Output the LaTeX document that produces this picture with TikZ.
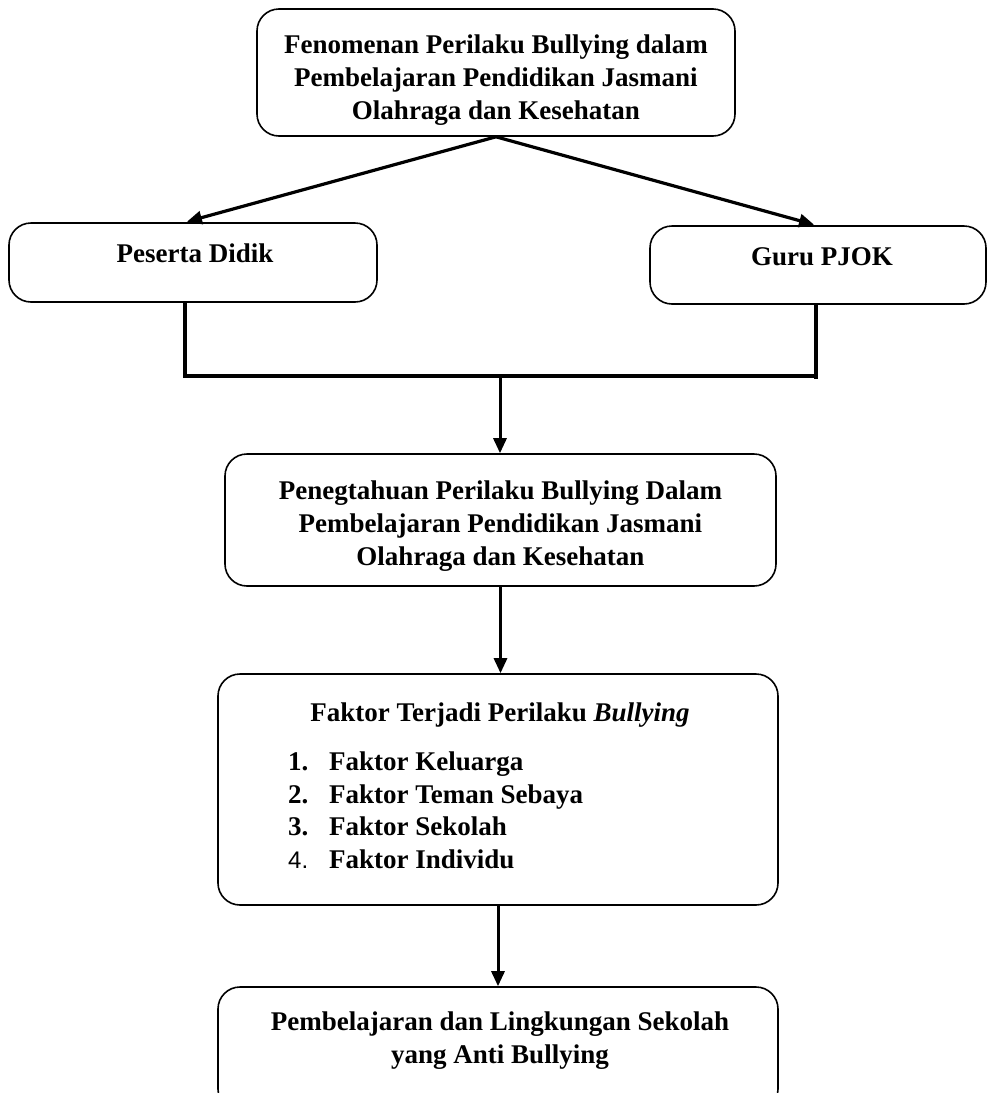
\documentclass[tikz,border=0pt]{standalone}
\usepackage{fontspec}
\setmainfont{Liberation Serif}
\newfontfamily\arialsans{Liberation Sans}
\usetikzlibrary{arrows.meta}
\begin{document}
\begin{tikzpicture}[x=1pt,y=-1pt,
  box/.style={draw, line width=1.6pt, rounded corners=22pt, inner sep=0pt},
  txt/.style={font=\fontsize{27}{33}\selectfont\bfseries, align=center, inner sep=0pt},
  conn/.style={line width=3.2pt},
  arr/.style={line width=3.2pt, -{Triangle[length=15pt,width=13pt]}},
  varr/.style={line width=3pt, -{Triangle[length=15pt,width=13pt]}},
]
\useasboundingbox (0,0) rectangle (988,1093);
\clip (0,0) rectangle (988,1093);

% top box
\node[box, minimum width=478pt, minimum height=127pt] (top) at (496,72.5) {};
\node[txt] (topt) at (496,80)
  {Fenomenan Perilaku Bullying dalam\\Pembelajaran Pendidikan Jasmani\\Olahraga dan Kesehatan};

% second row
\node[box, minimum width=368pt, minimum height=79pt] (pd) at (193,262.5) {};
\node[txt, anchor=base] (pdt) at (195,262) {Peserta Didik};
\node[box, minimum width=336pt, minimum height=78pt] (gr) at (818,265) {};
\node[txt, anchor=base] (grt) at (822,265) {Guru PJOK};

\coordinate (jl) at (185,376);
\coordinate (jr) at (816,376);
\coordinate (jm) at (500,376);
\coordinate (jre) at (816,379);

\draw[arr, shorten >=2pt] (top.south) -- (pd.north -| jl);
\draw[arr, shorten >=2pt] (top.south) -- (gr.north -| jr);
\draw[conn] (pd.south -| jl) -- (jl) -- (jr);
\draw[conn] (gr.south -| jr) -- (jre);

% third box
\node[box, minimum width=551pt, minimum height=132pt] (pk) at (500.5,520) {};
\node[txt] (pkt) at (500.5,526)
  {Penegtahuan Perilaku Bullying Dalam\\Pembelajaran Pendidikan Jasmani\\Olahraga dan Kesehatan};
\draw[varr] (jm) -- (pk.north -| jm);

% factor box
\node[box, minimum width=560pt, minimum height=231pt] (fk) at (498,789.5) {};
\draw[varr] (pk.south) -- (pk.south |- fk.north);
\node[txt, anchor=base] (fkt) at (500,721) {Faktor Terjadi Perilaku \textit{Bullying}};
\node[txt, anchor=base west] (f1) at (288,770) {\makebox[41pt][l]{1.}Faktor Keluarga};
\node[txt, anchor=base west] (f2) at (288,803) {\makebox[41pt][l]{2.}Faktor Teman Sebaya};
\node[txt, anchor=base west] (f3) at (288,835) {\makebox[41pt][l]{3.}Faktor Sekolah};
\node[txt, anchor=base west] (f4) at (288,868) {\makebox[41pt][l]{\mdseries\arialsans\fontsize{24}{30}\selectfont 4.}Faktor Individu};

% bottom box
\node[box, minimum width=560pt, minimum height=124pt] (pl) at (498,1049) {};
\draw[varr] (fk.south) -- (fk.south |- pl.north);
\node[txt] (plt) at (500,1041) {Pembelajaran dan Lingkungan Sekolah\\yang Anti Bullying};
\end{tikzpicture}
\end{document}
